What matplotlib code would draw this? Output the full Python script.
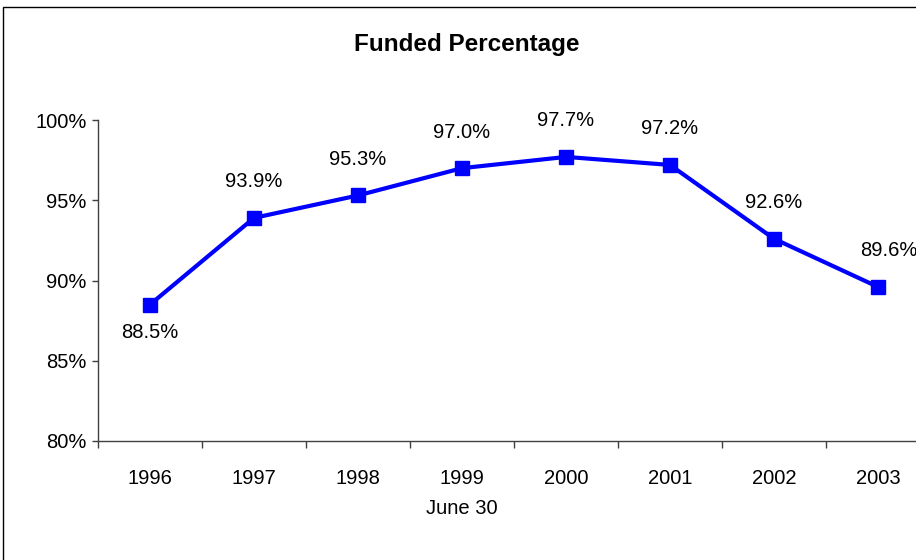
import matplotlib
matplotlib.use("Agg")
import matplotlib.pyplot as plt
from matplotlib.patches import Rectangle

years = ["1996", "1997", "1998", "1999", "2000", "2001", "2002", "2003"]
funded = [88.5, 93.9, 95.3, 97.0, 97.7, 97.2, 92.6, 89.6]
yticks = [80, 85, 90, 95, 100]

plt.rcParams['font.family'] = ['Liberation Sans', 'DejaVu Sans']

W, H = 916, 560
fig = plt.figure(figsize=(W / 100, H / 100), dpi=100)

# outer frame
fig.patches.append(Rectangle((3 / W, -0.1), 1.2, 1.1 - 7 / H, transform=fig.transFigure,
                             fill=False, edgecolor='black', linewidth=1.0))

ax = fig.add_axes([98 / W, 1 - 441 / H, 832 / W, 321 / H])
x = list(range(len(years)))
ax.plot(x, funded, color='#0000FF', linewidth=3.0, marker='s', markersize=10,
        markeredgecolor='#0000FF', clip_on=False)

ax.set_xlim(-0.5, len(years) - 0.5)
ax.set_ylim(80, 100)

for s in ['top', 'right']:
    ax.spines[s].set_visible(False)
for s in ['left', 'bottom']:
    ax.spines[s].set_color('#404040')
    ax.spines[s].set_linewidth(1.0)

fs = 14.5
ax.set_yticks(yticks)
ax.set_yticklabels([f"{v}%" for v in yticks])
ax.tick_params(axis='y', direction='out', length=4.3, width=1, color='#404040',
               pad=4, labelsize=fs)

ax.set_xticks([i - 0.5 for i in range(len(years) + 1)])
ax.set_xticklabels([])
ax.set_xticks(x, minor=True)
ax.set_xticklabels(years, minor=True)
ax.tick_params(axis='x', which='major', direction='out', length=5, width=1, color='#404040')
ax.tick_params(axis='x', which='minor', length=0, pad=20, labelsize=fs)

for i, v in enumerate(funded):
    if i == 0:
        off = (0, -28)
    elif i == len(funded) - 1:
        off = (11, 36)
    else:
        off = (0, 36)
    ax.annotate(f"{v:.1f}%", (i, v), xytext=off, textcoords='offset pixels',
                ha='center', va='center', fontsize=fs, annotation_clip=False)

fig.text(467 / W, 1 - 45 / H, "Funded Percentage", ha='center', va='center',
         fontsize=17.5, fontweight='bold')
fig.text(462 / W, 1 - 508 / H, "June 30", ha='center', va='center', fontsize=fs)

fig.savefig("out.png", dpi=100)
